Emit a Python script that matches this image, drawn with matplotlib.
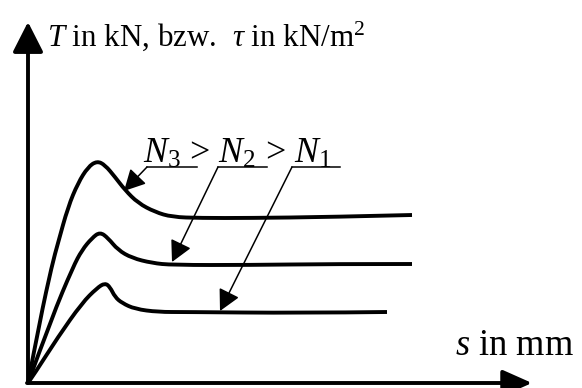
import matplotlib
matplotlib.use('Agg')
from matplotlib import pyplot as plt
from matplotlib.patches import FancyArrowPatch, PathPatch
from matplotlib.path import Path

plt.rcParams['font.family'] = 'Liberation Serif'
plt.rcParams['mathtext.fontset'] = 'custom'
plt.rcParams['mathtext.rm'] = 'Liberation Serif'
plt.rcParams['mathtext.it'] = 'Liberation Serif:italic'

# slip s vs. shear force T for three normal loads (N3 > N2 > N1)
s_n3 = [0, 12, 24, 30, 40, 50, 60, 69, 77, 87, 97, 110, 127, 144, 172, 222, 302, 384]
t_n3 = [0, 63, 118, 140, 176, 200, 216, 222, 218, 206, 193, 180, 171, 166, 165, 165, 166, 168]

s_n2 = [0, 24, 45, 54, 64, 72, 80, 90, 104, 124, 144, 222, 302, 384]
t_n2 = [0, 66, 116, 133, 145, 151, 145, 133, 125, 120, 118, 118, 119, 119]

s_n1 = [0, 7, 30, 54, 69, 77, 82, 87, 94, 107, 130, 157, 272, 359]
t_n1 = [0, 10, 46, 80, 95, 100, 96, 86, 80, 74, 71, 71, 70, 71]

# label leaders: end of underline, start of underline, arrow tip
leaders = [
    [(169, 216), (119, 216), (96, 192)],
    [(239, 216), (190, 216), (144, 121)],
    [(312, 216), (264, 216), (192, 72)],
]


def smooth_path(s, t):
    # quadratic bezier through the midpoints, measured points act as control points
    pts = list(zip(s, t))
    verts = [pts[0]]
    codes = [Path.MOVETO]
    for i in range(1, len(pts) - 1):
        mid = ((pts[i][0] + pts[i + 1][0]) / 2, (pts[i][1] + pts[i + 1][1]) / 2)
        verts += [pts[i], mid if i < len(pts) - 2 else pts[-1]]
        codes += [Path.CURVE3, Path.CURVE3]
    return Path(verts, codes)


fig = plt.figure(figsize=(5.82, 3.88), dpi=100)
ax = fig.add_axes([0, 0, 1, 1])
ax.set_xlim(-28, 554)
ax.set_ylim(-5, 383)
ax.axis('off')

for s, t in [(s_n3, t_n3), (s_n2, t_n2), (s_n1, t_n1)]:
    ax.add_patch(PathPatch(smooth_path(s, t), fill=False, edgecolor='black', lw=2.8,
                           joinstyle='round', capstyle='butt'))

# axes with arrow heads
ax.add_patch(FancyArrowPatch((0, 0), (0, 361), arrowstyle='-|>,head_length=18.5,head_width=9.4',
                             mutation_scale=1, color='black', lw=2.8, shrinkA=0, shrinkB=0))
ax.add_patch(FancyArrowPatch((-1, 0), (504, 0), arrowstyle='-|>,head_length=18,head_width=8',
                             mutation_scale=1, color='black', lw=2.8, shrinkA=0, shrinkB=0))

for (xe, ye), (xs, ys), tip in leaders:
    ax.plot([xe, xs], [ye, ys], color='black', lw=1.1)
    ax.add_patch(FancyArrowPatch((xs, ys), tip, arrowstyle='-|>,head_length=13,head_width=6.8',
                                 mutation_scale=1, color='black', lw=1.1, shrinkA=0, shrinkB=0))

ax.text(19, 337, r'$T$ in kN, bzw.  $\tau$ in kN/m$^2$', fontsize=22.3, va='baseline')
ax.text(115, 220, r'$N_3$ > $N_2$ > $N_1$', fontsize=25.8, va='baseline')
ax.text(427, 28, r'$s$ in mm', fontsize=26.3, va='baseline')

fig.savefig('out.png', dpi=100)
